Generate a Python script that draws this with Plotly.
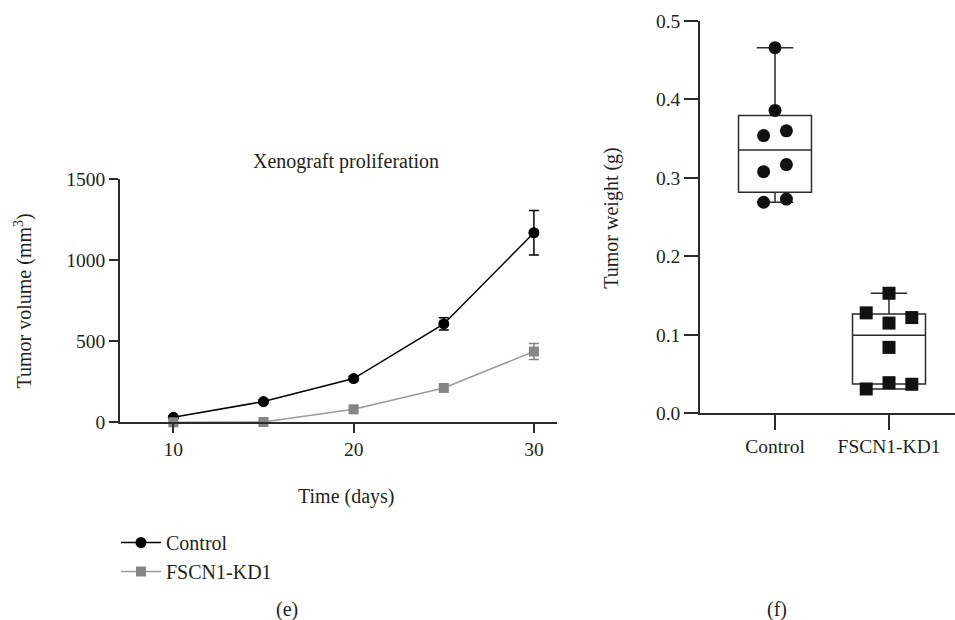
import numpy as np
import plotly.graph_objects as go

# ---------------- data ----------------
days = [10, 15, 20, 25, 30]
control_volume = [31, 128, 270, 607, 1170]
control_volume_err = [6, 10, 14, 38, 137]
kd_volume = [0, 2, 80, 212, 437]
kd_volume_err = [3, 4, 10, 14, 50]

groups = ["Control", "FSCN1-KD1"]
control_weight = [0.466, 0.386, 0.360, 0.354, 0.317, 0.308, 0.273, 0.269]
kd_weight = [0.153, 0.128, 0.122, 0.115, 0.084, 0.039, 0.037, 0.031]

y_ticks_volume = [0, 500, 1000, 1500]
x_ticks_days = [10, 20, 30]
y_ticks_weight = [0.0, 0.1, 0.2, 0.3, 0.4, 0.5]

# ---------------- style ----------------
W, H = 955, 620
FONT = "Liberation Serif"
TXT = "#231f20"
AX = "#2b2b2b"
GRAY = "#858585"
GRAY_LINE = "#9a9a9a"
FS = 20
FS_TICK = 19.5

# beeswarm side for each point (-1 left, 0 centre, +1 right) and spread
control_side = [0, 0, 1, -1, 1, -1, 1, -1]
kd_side = [0, -1, 1, 0, 0, 0, 1, -1]
control_spread = 0.10
kd_spread = 0.20


def px(x):
    return x / W


def py(y):
    return 1 - y / H


fig = go.Figure()

# ---- left panel: growth curves ----
fig.add_trace(go.Scatter(
    x=days, y=control_volume, name="Control", mode="lines+markers",
    line=dict(color="#000000", width=1.5),
    marker=dict(symbol="circle", size=11, color="#000000"),
    error_y=dict(type="data", array=control_volume_err, color="#000000", thickness=1.5, width=5),
    xaxis="x", yaxis="y", cliponaxis=False,
))
fig.add_trace(go.Scatter(
    x=days, y=kd_volume, name="FSCN1-KD1", mode="lines+markers",
    line=dict(color=GRAY_LINE, width=1.5),
    marker=dict(symbol="square", size=10, color=GRAY),
    error_y=dict(type="data", array=kd_volume_err, color=GRAY, thickness=1.5, width=5),
    xaxis="x", yaxis="y", cliponaxis=False,
))

# ---- right panel: box plots ----
def stats(v):
    a = np.asarray(v, dtype=float)
    q1, med, q3 = np.percentile(a, [25, 50, 75], method="weibull")
    return float(a.min()), float(q1), float(med), float(q3), float(a.max())


for i, (vals, side, spread, sym) in enumerate([
        (control_weight, control_side, control_spread, "circle"),
        (kd_weight, kd_side, kd_spread, "square")]):
    lo, q1, med, q3, hi = stats(vals)
    fig.add_trace(go.Box(
        x=[i], q1=[q1], median=[med], q3=[q3], lowerfence=[lo], upperfence=[hi],
        width=0.64, whiskerwidth=0.5, fillcolor="rgba(0,0,0,0)",
        line=dict(color=AX, width=1.5), boxpoints=False, showlegend=False,
        xaxis="x2", yaxis="y2", hoverinfo="skip",
    ))
    fig.add_trace(go.Scatter(
        x=[i + s * spread for s in side], y=vals, mode="markers",
        marker=dict(symbol=sym, size=13, color="#111111"),
        showlegend=False, xaxis="x2", yaxis="y2", cliponaxis=False,
    ))

axis_common = dict(
    showgrid=False, zeroline=False, showline=True, linecolor=AX, linewidth=1.5,
    ticks="outside", tickcolor=AX, tickwidth=1.5, automargin=False,
    tickfont=dict(family=FONT, size=FS_TICK, color=TXT),
)

fig.update_layout(
    width=W, height=H,
    margin=dict(l=0, r=0, t=0, b=0, autoexpand=False),
    paper_bgcolor="white", plot_bgcolor="white",
    font=dict(family=FONT, size=FS, color=TXT),
    xaxis=dict(domain=[px(120), px(557)], range=[7.04, 31.28],
               tickvals=x_ticks_days, ticklen=9, anchor="y", **axis_common),
    yaxis=dict(domain=[py(422.3), py(179.3)], range=[0, 1500],
               tickvals=y_ticks_volume, ticklen=9, anchor="x", **axis_common),
    xaxis2=dict(domain=[px(700), 1.0], range=[-0.658, 1.579],
                tickvals=[0, 1], ticktext=groups, ticklen=15, anchor="y2", **axis_common),
    yaxis2=dict(domain=[py(413.3), py(21)], range=[0, 0.5],
                tickvals=y_ticks_weight, tickformat=".1f", ticklen=14, anchor="x2", **axis_common),
    legend=dict(x=px(116), y=py(523), xanchor="left", yanchor="top",
                font=dict(family=FONT, size=FS, color=TXT), itemwidth=40,
                bgcolor="rgba(0,0,0,0)", tracegroupgap=0),
    showlegend=True,
)

annotations = [
    dict(text="Xenograft proliferation", x=px(345.5), y=py(161.7)),
    dict(text="Time (days)", x=px(345.5), y=py(496.7)),
    dict(text="Tumor volume (mm<sup>3</sup>)", x=px(22.5), y=py(301), textangle=-90),
    dict(text="Tumor weight (g)", x=px(611.7), y=py(218), textangle=-90),
    dict(text="(e)", x=px(286.7), y=py(609)),
    dict(text="(f)", x=px(777), y=py(609)),
]
for a in annotations:
    fig.add_annotation(xref="paper", yref="paper", showarrow=False,
                       xanchor="center", yanchor="middle",
                       font=dict(family=FONT, size=FS, color=TXT), **a)

fig.write_html("out.html", config={"displayModeBar": False},
               post_script="document.body.style.margin='0';document.body.style.overflow='hidden';")
